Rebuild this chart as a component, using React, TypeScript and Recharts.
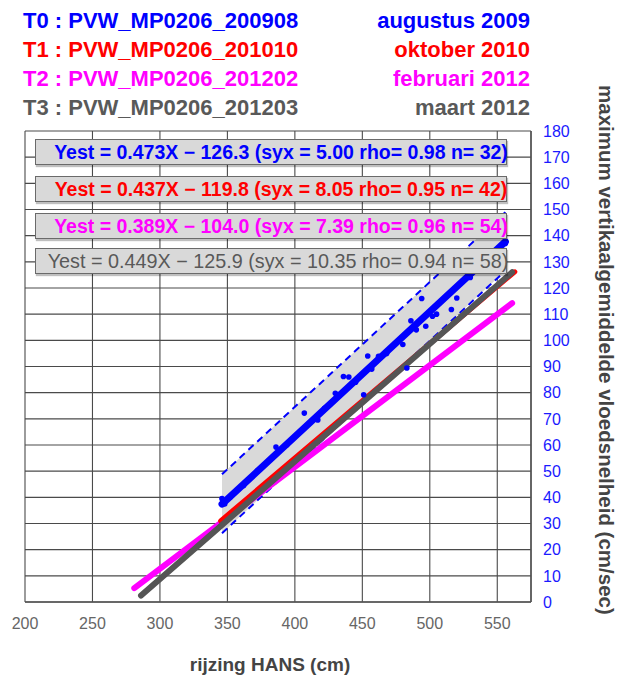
import React from 'react';
import { ComposedChart, XAxis, YAxis, CartesianGrid, Line, Area, Scatter } from 'recharts';

// axis ticks
const xTicks = [200, 250, 300, 350, 400, 450, 500, 550];
const yTicks = [0, 10, 20, 30, 40, 50, 60, 70, 80, 90, 100, 110, 120, 130, 140, 150, 160, 170, 180];

// regression lines, end points
const t0Line = [{ x: 346, y: 37.4 }, { x: 556, y: 137.7 }];
const t1Line = [{ x: 345, y: 31.0 }, { x: 563, y: 126.2 }];
const t2Line = [{ x: 281, y: 5.3 }, { x: 561, y: 114.2 }];
const t3Line = [{ x: 286, y: 2.5 }, { x: 561, y: 126.0 }];

// T0 prediction band (dashed edges + grey fill)
const t0Upper = [{ x: 346, y: 48.8 }, { x: 556, y: 149.0 }];
const t0Lower = [{ x: 346, y: 26.3 }, { x: 556, y: 126.6 }];
const t0Band = [{ x: 346, band: [26.3, 48.8] }, { x: 556, band: [126.6, 149.0] }];

// T0 measurements (n = 32)
const t0Points = [
  { x: 346, y: 39.5 }, { x: 348, y: 37.5 }, { x: 352, y: 40 }, { x: 362, y: 44.5 },
  { x: 372, y: 50 }, { x: 386, y: 59.2 }, { x: 394, y: 60 }, { x: 407, y: 72.2 },
  { x: 417, y: 69.6 }, { x: 422, y: 74 }, { x: 430, y: 79.8 }, { x: 436, y: 86.2 },
  { x: 440, y: 86 }, { x: 445, y: 84 }, { x: 451, y: 79.2 }, { x: 454, y: 94 },
  { x: 457, y: 89 }, { x: 462, y: 93.9 }, { x: 468, y: 95 }, { x: 480, y: 98.4 },
  { x: 483, y: 89.4 }, { x: 486, y: 107.5 }, { x: 490, y: 104 }, { x: 494, y: 116 },
  { x: 497, y: 105.4 }, { x: 502, y: 109.2 }, { x: 505, y: 110 }, { x: 516, y: 111.8 },
  { x: 520, y: 116.2 }, { x: 530, y: 124 }, { x: 545, y: 131 }, { x: 556, y: 137 }
];

const headerNames = ['T0 : PVW_MP0206_200908', 'T1 : PVW_MP0206_201010', 'T2 : PVW_MP0206_201202', 'T3 : PVW_MP0206_201203'];
const headerDates = ['augustus 2009', 'oktober 2010', 'februari 2012', 'maart 2012'];
const seriesColors = ['#0000ff', '#ff0000', '#ff00ff', '#595959'];
const equations = [
  'Yest = 0.473X \u2212 126.3 (syx = 5.00 rho= 0.98 n= 32)',
  'Yest = 0.437X \u2212 119.8 (syx = 8.05 rho= 0.95 n= 42)',
  'Yest = 0.389X \u2212 104.0 (syx = 7.39 rho= 0.96 n= 54)',
  'Yest = 0.449X \u2212 125.9 (syx = 10.35 rho= 0.94 n= 58)'
];

const boxTops = [139, 176, 213, 248];

export default function App() {
  const font = '"Liberation Sans", Arial, sans-serif';
  return (
    <div style={{ position: 'absolute', left: 0, top: 0, width: 621, height: 678, fontFamily: font, background: '#fff' }}>
      <ComposedChart width={621} height={678} margin={{ top: 131, left: 25, right: 50, bottom: 46 }}>
        <CartesianGrid stroke="#4a4a4a" strokeWidth={1.1} />
        <XAxis
          type="number"
          dataKey="x"
          domain={[200, 575]}
          ticks={xTicks}
          allowDataOverflow
          height={30}
          tickLine={false}
          axisLine={{ stroke: '#555', strokeWidth: 1.5 }}
          tickMargin={10}
          tick={{ fill: '#666', fontSize: 16, fontFamily: font }}
          interval={0}
        />
        <YAxis
          type="number"
          orientation="right"
          domain={[0, 180]}
          ticks={yTicks}
          allowDataOverflow
          width={40}
          tickLine={false}
          axisLine={{ stroke: '#555', strokeWidth: 1.5 }}
          tickMargin={6}
          tick={{ fill: '#1a1aff', fontSize: 16, fontFamily: font }}
          interval={0}
        />
        <Area data={t0Band} dataKey="band" type="linear" fill="#d9d9d9" fillOpacity={1} stroke="none" dot={false} activeDot={false} isAnimationActive={false} />
        <Line data={t0Upper} dataKey="y" type="linear" stroke="#0000ff" strokeWidth={2} strokeDasharray="7 5" dot={false} activeDot={false} isAnimationActive={false} />
        <Line data={t0Lower} dataKey="y" type="linear" stroke="#0000ff" strokeWidth={2} strokeDasharray="7 5" dot={false} activeDot={false} isAnimationActive={false} />
        <Line data={t2Line} dataKey="y" type="linear" stroke="#ff00ff" strokeWidth={6} strokeLinecap="round" dot={false} activeDot={false} isAnimationActive={false} />
        <Line data={t1Line} dataKey="y" type="linear" stroke="#ff0000" strokeWidth={5} strokeLinecap="round" dot={false} activeDot={false} isAnimationActive={false} />
        <Line data={t3Line} dataKey="y" type="linear" stroke="#555555" strokeWidth={6} strokeLinecap="round" dot={false} activeDot={false} isAnimationActive={false} />
        <Line data={t0Line} dataKey="y" type="linear" stroke="#0000ff" strokeWidth={7} strokeLinecap="round" dot={false} activeDot={false} isAnimationActive={false} />
        <Scatter
          data={t0Points}
          dataKey="y"
          isAnimationActive={false}
          shape={(p: any) => <circle cx={p.cx} cy={p.cy} r={2.8} fill="#0000ff" />}
        />
      </ComposedChart>

      {/* header: dataset names and dates */}
      {headerNames.map((name, i) => (
        <div key={name} style={{
          position: 'absolute', left: 23, top: 5.5 + i * 29, lineHeight: '29px',
          fontSize: 22, fontWeight: 'bold', color: seriesColors[i], whiteSpace: 'nowrap'
        }}>{name}</div>
      ))}
      {headerDates.map((d, i) => (
        <div key={d} style={{
          position: 'absolute', right: 91, top: 5.5 + i * 29, lineHeight: '29px',
          fontSize: 22, fontWeight: 'bold', color: seriesColors[i], whiteSpace: 'nowrap', textAlign: 'right'
        }}>{d}</div>
      ))}

      {/* regression equation boxes */}
      {equations.map((eq, i) => (
        <div key={eq} style={{
          position: 'absolute', left: 35, top: boxTops[i], width: 472, height: 26, boxSizing: 'border-box',
          background: '#d9d9d9', border: '1.5px solid #6a6a6a', boxShadow: '1px 2px 1px rgba(0,0,0,0.25)',
          display: 'flex', alignItems: 'center', justifyContent: 'center', overflow: 'visible'
        }}>
          <span style={{
            fontSize: i === 3 ? 19.8 : 19.5, fontWeight: i === 3 ? 'normal' : 'bold', color: seriesColors[i],
            whiteSpace: 'nowrap', paddingLeft: i === 3 ? 14 : 20
          }}>{eq}</span>
        </div>
      ))}

      {/* axis titles */}
      <div style={{
        position: 'absolute', left: 170, top: 654, width: 200, textAlign: 'center',
        fontSize: 19, fontWeight: 'bold', color: '#444', whiteSpace: 'nowrap'
      }}>rijzing HANS (cm)</div>
      <div style={{
        position: 'absolute', left: 594, top: 85, lineHeight: '24px', writingMode: 'vertical-rl',
        fontSize: 20.5, fontWeight: 'bold', color: '#444', whiteSpace: 'nowrap'
      }}>maximum vertikaalgemiddelde vloedsnelheid (cm/sec)</div>
    </div>
  );
}
